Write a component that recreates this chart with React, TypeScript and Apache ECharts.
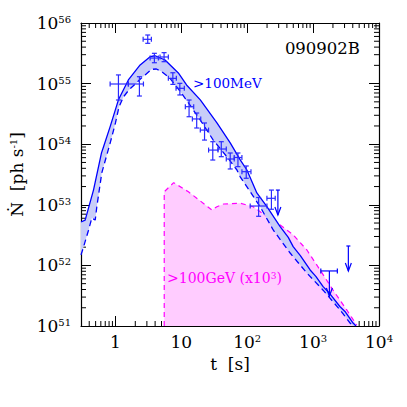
import React, { useEffect, useRef } from 'react';
import * as echarts from 'echarts';

// >100 MeV model band: upper (solid) and lower (dashed) curves
const upperT = [0.3, 0.347, 0.464, 0.614, 0.658, 0.831, 1.11, 1.57, 2.37, 3.36, 4.0, 5.66, 9.0, 12.0, 19.4, 34.7, 55.2, 78.3, 98.9, 140, 199, 316, 420, 498, 640, 901, 1100, 1418, 1800, 2566, 3100, 4038, 4484];
const upperN = [5.2e52, 5.6e52, 1.75e53, 7.2e53, 9.0e53, 1.95e54, 5.4e54, 1.15e55, 2.03e55, 2.78e55, 2.88e55, 2.45e55, 1.5e55, 9.5e54, 5.4e54, 2.24e54, 1.05e54, 5.5e53, 3.75e53, 1.57e53, 9.3e52, 4.35e52, 2.9e52, 2.04e52, 1.45e52, 8.4e51, 6.6e51, 4.46e51, 3.4e51, 2.08e51, 1.7e51, 1.12e51, 1.0e51];
const lowerT = [0.3, 0.327, 0.39, 0.438, 0.493, 0.521, 0.62, 0.84, 1.0, 1.13, 1.32, 1.59, 1.99, 2.39, 2.82, 3.55, 4.18, 5.03, 6.74, 10.1, 12.8, 19.4, 30.5, 49.2, 69.8, 78.3, 157, 248, 448, 803, 1418, 2566, 3636, 4040];
const lowerN = [1.49e52, 2.0e52, 3.8e52, 6.05e52, 5.6e52, 9.2e52, 3.35e53, 1.09e54, 2.24e54, 4.1e54, 6.0e54, 7.8e54, 9.8e54, 1.19e55, 1.39e55, 1.72e55, 1.74e55, 1.57e55, 1.22e55, 6.9e54, 4.8e54, 2.5e54, 1.17e54, 6.2e53, 3.75e53, 2.9e53, 9.3e52, 3.84e52, 1.6e52, 7.5e51, 3.9e51, 1.84e51, 1.12e51, 1.0e51];

// >100 GeV (x10^3) region
const vheT = [5.5, 5.5, 7.65, 12.8, 29.2, 34.7, 43.8, 78.3, 123, 199, 316, 498, 803, 1277, 2010, 3240, 4590, 4800];
const vheN = [1e51, 1.64e53, 2.32e53, 1.64e53, 8.2e52, 9.3e52, 1.03e53, 1.06e53, 9.3e52, 6.4e52, 4.64e52, 3.2e52, 1.8e52, 8.4e51, 3.9e51, 1.84e51, 1.04e51, 1e51];

// LAT data points with error bars
const ptT = [3.09, 1.11, 2.31, 3.90, 5.47, 7.43, 9.49, 13.1, 17.1, 22.5, 30.0, 40.4, 55.2, 72.3, 96.6, 149, 233];
const ptTlo = [2.63, 0.83, 1.57, 3.36, 4.75, 6.35, 8.31, 11.5, 14.7, 19.4, 25.9, 36.0, 48.1, 63.5, 83.1, 111, 199];
const ptThi = [3.51, 1.57, 2.66, 4.48, 6.35, 8.40, 11.1, 15.4, 19.7, 25.9, 36.0, 48.1, 63.5, 83.1, 114, 199, 266];
const ptN = [5.38e55, 9.85e54, 9.85e54, 2.64e55, 2.75e55, 1.22e55, 8.36e54, 4.16e54, 2.61e54, 1.71e54, 8.0e53, 8.33e53, 5.7e53, 6.04e53, 3.52e53, 9.55e52, 1.28e53];
const ptNlo = [4.62e55, 5.36e54, 6.24e54, 2.21e55, 2.30e55, 9.7e54, 6.49e54, 2.84e54, 1.85e54, 1.17e54, 5.48e53, 6.22e53, 3.9e53, 4.26e53, 2.74e53, 6.46e52, 8.44e52];
const ptNhi = [6.34e55, 1.39e55, 1.30e55, 3.16e55, 3.24e55, 1.51e55, 1.01e55, 5.36e54, 3.27e54, 2.24e54, 1.10e54, 1.10e54, 7.16e53, 7.16e53, 4.37e53, 1.32e53, 1.75e53];

// upper limits
const ulT = [292, 1766, 3427];
const ulTlo = [292, 1309, 3427];
const ulThi = [292, 2333, 3427];
const ulN = [1.75e53, 8.1e51, 2.09e52];

// axis ranges & minor ticks
const xMin = 0.3, xMax = 10000, yMin = 1e51, yMax = 1e56;
const xDecades = [-1, 0, 1, 2, 3];
const yDecades = [51, 52, 53, 54, 55];
const minorMult = [2, 3, 4, 5, 6, 7, 8, 9];

const FONT = 'DejaVu Serif';
const BLUE = '#0000ff';
const BAR = '#2a2aff';
const MAG = '#ff00ff';

function supLabel(v: number) {
  const l = Math.log10(v);
  const e = Math.round(l);
  if (Math.abs(l - e) > 0.01) return '';
  if (e === 0) return '1';
  if (e === 1) return '10';
  return '10{sup|' + e + '}';
}

export default function App() {
  const ref = useRef<HTMLDivElement>(null);
  useEffect(() => {
    if (!ref.current) return;
    const chart = echarts.init(ref.current, null, { renderer: 'svg' });

    const xMinor: number[][] = [];
    xDecades.forEach((d) => minorMult.forEach((k) => {
      const v = k * Math.pow(10, d);
      if (v > xMin * 1.01 && v < xMax) xMinor.push([v, yMin]);
    }));
    const yMinor: number[][] = [];
    yDecades.forEach((d) => minorMult.forEach((k) => {
      yMinor.push([1, k * Math.pow(10, d)]);
    }));

    const bandPts = upperT.map((t, i) => [t, upperN[i]]).concat(
      lowerT.map((t, i) => [t, lowerN[i]]).reverse()
    );
    const vhePts = vheT.map((t, i) => [t, vheN[i]]);

    const supRich = { sup: { fontSize: 10, fontFamily: FONT, verticalAlign: 'top' as const, lineHeight: 12, color: '#000' } };
    const axisCommon = {
      axisLine: { show: true, onZero: false, lineStyle: { color: '#000', width: 1.2 } },
      axisTick: { show: true, inside: true, length: 10, lineStyle: { color: '#000', width: 1 } },
      splitLine: { show: false },
    };

    const tickSeriesX = {
      type: 'custom', silent: true, z: 1, clip: false,
      data: xMinor,
      renderItem: (params: any, api: any) => {
        const cs = params.coordSys;
        const x = api.coord([api.value(0), yMin])[0];
        const b = cs.y + cs.height;
        return {
          type: 'group', children: [
            { type: 'line', shape: { x1: x, y1: b, x2: x, y2: b - 5 }, style: { stroke: '#000', lineWidth: 1 } },
            { type: 'line', shape: { x1: x, y1: cs.y, x2: x, y2: cs.y + 5 }, style: { stroke: '#000', lineWidth: 1 } },
          ],
        };
      },
    };
    const tickSeriesY = {
      type: 'custom', silent: true, z: 1, clip: false,
      data: yMinor,
      renderItem: (params: any, api: any) => {
        const cs = params.coordSys;
        const y = api.coord([1, api.value(1)])[1];
        const r = cs.x + cs.width;
        return {
          type: 'group', children: [
            { type: 'line', shape: { x1: cs.x, y1: y, x2: cs.x + 5, y2: y }, style: { stroke: '#000', lineWidth: 1 } },
            { type: 'line', shape: { x1: r, y1: y, x2: r - 5, y2: y }, style: { stroke: '#000', lineWidth: 1 } },
          ],
        };
      },
    };

    const option: any = {
      animation: false,
      backgroundColor: '#fff',
      grid: { left: 81, top: 23, width: 298, height: 303, containLabel: false },
      xAxis: [
        {
          type: 'log', logBase: 10, min: xMin, max: xMax, position: 'bottom',
          ...axisCommon,
          name: 't  [s]', nameLocation: 'middle', nameGap: 29,
          nameTextStyle: { fontFamily: FONT, fontSize: 17, color: '#000' },
          axisLabel: {
            show: true, margin: 7, showMinLabel: false, formatter: supLabel,
            fontFamily: FONT, fontSize: 17, color: '#000', rich: supRich,
          },
        },
        {
          type: 'log', logBase: 10, min: xMin, max: xMax, position: 'top',
          ...axisCommon, axisLabel: { show: false },
        },
      ],
      yAxis: [
        {
          type: 'log', logBase: 10, min: yMin, max: yMax, position: 'left',
          ...axisCommon,
          name: 'Ṅ  [ph s{sup|-1}]', nameLocation: 'middle', nameGap: 55,
          nameTextStyle: { fontFamily: FONT, fontSize: 17, color: '#000', rich: { sup: { fontSize: 10, fontFamily: FONT, verticalAlign: 'top', lineHeight: 12, color: '#000' } } },
          axisLabel: {
            show: true, margin: 10, formatter: supLabel,
            fontFamily: FONT, fontSize: 17, color: '#000', rich: supRich,
          },
        },
        {
          type: 'log', logBase: 10, min: yMin, max: yMax, position: 'right',
          ...axisCommon, axisLabel: { show: false },
        },
      ],
      graphic: [
        { type: 'text', x: 360, y: 48, style: { text: '090902B', fill: '#000', font: '16.5px "DejaVu Serif"', align: 'right', verticalAlign: 'middle' } },
        { type: 'text', x: 193, y: 83, style: { text: '>100MeV', fill: BLUE, font: '13.5px "DejaVu Serif"', align: 'left', verticalAlign: 'middle' } },
        {
          type: 'text', x: 167, y: 278, z: 100,
          style: {
            text: '>100GeV (x10{s|3})', fill: MAG, font: '14px "DejaVu Serif"', align: 'left', verticalAlign: 'middle',
            rich: { s: { fontSize: 9, fontFamily: FONT, verticalAlign: 'top', lineHeight: 9, fill: MAG } },
          },
        },
      ],
      series: [
        {
          type: 'custom', silent: true, z: 2,
          data: [[1, 1e52]],
          renderItem: (params: any, api: any) => ({
            type: 'polygon',
            shape: { points: vhePts.map((p) => api.coord(p)) },
            style: { fill: '#ffccff', stroke: 'none' },
          }),
        },
        {
          type: 'line', z: 3, symbol: 'none', silent: true,
          data: vhePts.slice(0, vhePts.length - 1),
          lineStyle: { color: MAG, width: 1.2, type: [5, 4] },
        },
        {
          type: 'custom', silent: true, z: 4,
          data: [[1, 1e52]],
          renderItem: (params: any, api: any) => ({
            type: 'polygon',
            shape: { points: bandPts.map((p) => api.coord(p)) },
            style: { fill: '#c8cdf8', stroke: 'none' },
          }),
        },
        {
          type: 'line', z: 5, symbol: 'none', silent: true,
          data: upperT.map((t, i) => [t, upperN[i]]),
          lineStyle: { color: BLUE, width: 1.3 },
        },
        {
          type: 'line', z: 5, symbol: 'none', silent: true,
          data: lowerT.map((t, i) => [t, lowerN[i]]),
          lineStyle: { color: BLUE, width: 1.3, type: [6, 4] },
        },
        {
          type: 'custom', silent: true, z: 6,
          data: ptT.map((t, i) => [t, ptN[i]]),
          renderItem: (params: any, api: any) => {
            const i = params.dataIndex;
            const c = api.coord([ptT[i], ptN[i]]);
            const xl = api.coord([ptTlo[i], ptN[i]])[0];
            const xh = api.coord([ptThi[i], ptN[i]])[0];
            const yl = api.coord([ptT[i], ptNlo[i]])[1];
            const yh = api.coord([ptT[i], ptNhi[i]])[1];
            const st = { stroke: BAR, lineWidth: 1.2 };
            const cap = 2.5;
            return {
              type: 'group', children: [
                { type: 'line', shape: { x1: xl, y1: c[1], x2: xh, y2: c[1] }, style: st },
                { type: 'line', shape: { x1: c[0], y1: yl, x2: c[0], y2: yh }, style: st },
                { type: 'line', shape: { x1: c[0] - cap, y1: yl, x2: c[0] + cap, y2: yl }, style: st },
                { type: 'line', shape: { x1: c[0] - cap, y1: yh, x2: c[0] + cap, y2: yh }, style: st },
                { type: 'line', shape: { x1: xl, y1: c[1] - cap, x2: xl, y2: c[1] + cap }, style: st },
                { type: 'line', shape: { x1: xh, y1: c[1] - cap, x2: xh, y2: c[1] + cap }, style: st },
              ],
            };
          },
        },
        {
          type: 'custom', silent: true, z: 6,
          data: ulT.map((t, i) => [t, ulN[i]]),
          renderItem: (params: any, api: any) => {
            const i = params.dataIndex;
            const c = api.coord([ulT[i], ulN[i]]);
            const xl = api.coord([ulTlo[i], ulN[i]])[0];
            const xh = api.coord([ulThi[i], ulN[i]])[0];
            const st = { stroke: BLUE, lineWidth: 1.2 };
            const len = 25;
            const children: any[] = [
              { type: 'line', shape: { x1: c[0], y1: c[1], x2: c[0], y2: c[1] + len }, style: st },
              { type: 'polyline', shape: { points: [[c[0] - 3, c[1] + len - 8], [c[0], c[1] + len], [c[0] + 3, c[1] + len - 8]] }, style: { stroke: BLUE, lineWidth: 1.2, fill: 'none' } },
            ];
            if (xh - xl > 2) {
              children.push({ type: 'line', shape: { x1: xl, y1: c[1], x2: xh, y2: c[1] }, style: st });
              children.push({ type: 'line', shape: { x1: xl, y1: c[1] - 2.5, x2: xl, y2: c[1] + 2.5 }, style: st });
              children.push({ type: 'line', shape: { x1: xh, y1: c[1] - 2.5, x2: xh, y2: c[1] + 2.5 }, style: st });
            } else {
              children.push({ type: 'line', shape: { x1: c[0] - 2, y1: c[1], x2: c[0] + 2, y2: c[1] }, style: st });
            }
            return { type: 'group', children };
          },
        },
        tickSeriesX,
        tickSeriesY,
      ],
    };
    chart.setOption(option);
    return () => chart.dispose();
  }, []);
  return <div ref={ref} style={{ position: 'fixed', left: 0, top: 0, width: 407, height: 407 }} />;
}
